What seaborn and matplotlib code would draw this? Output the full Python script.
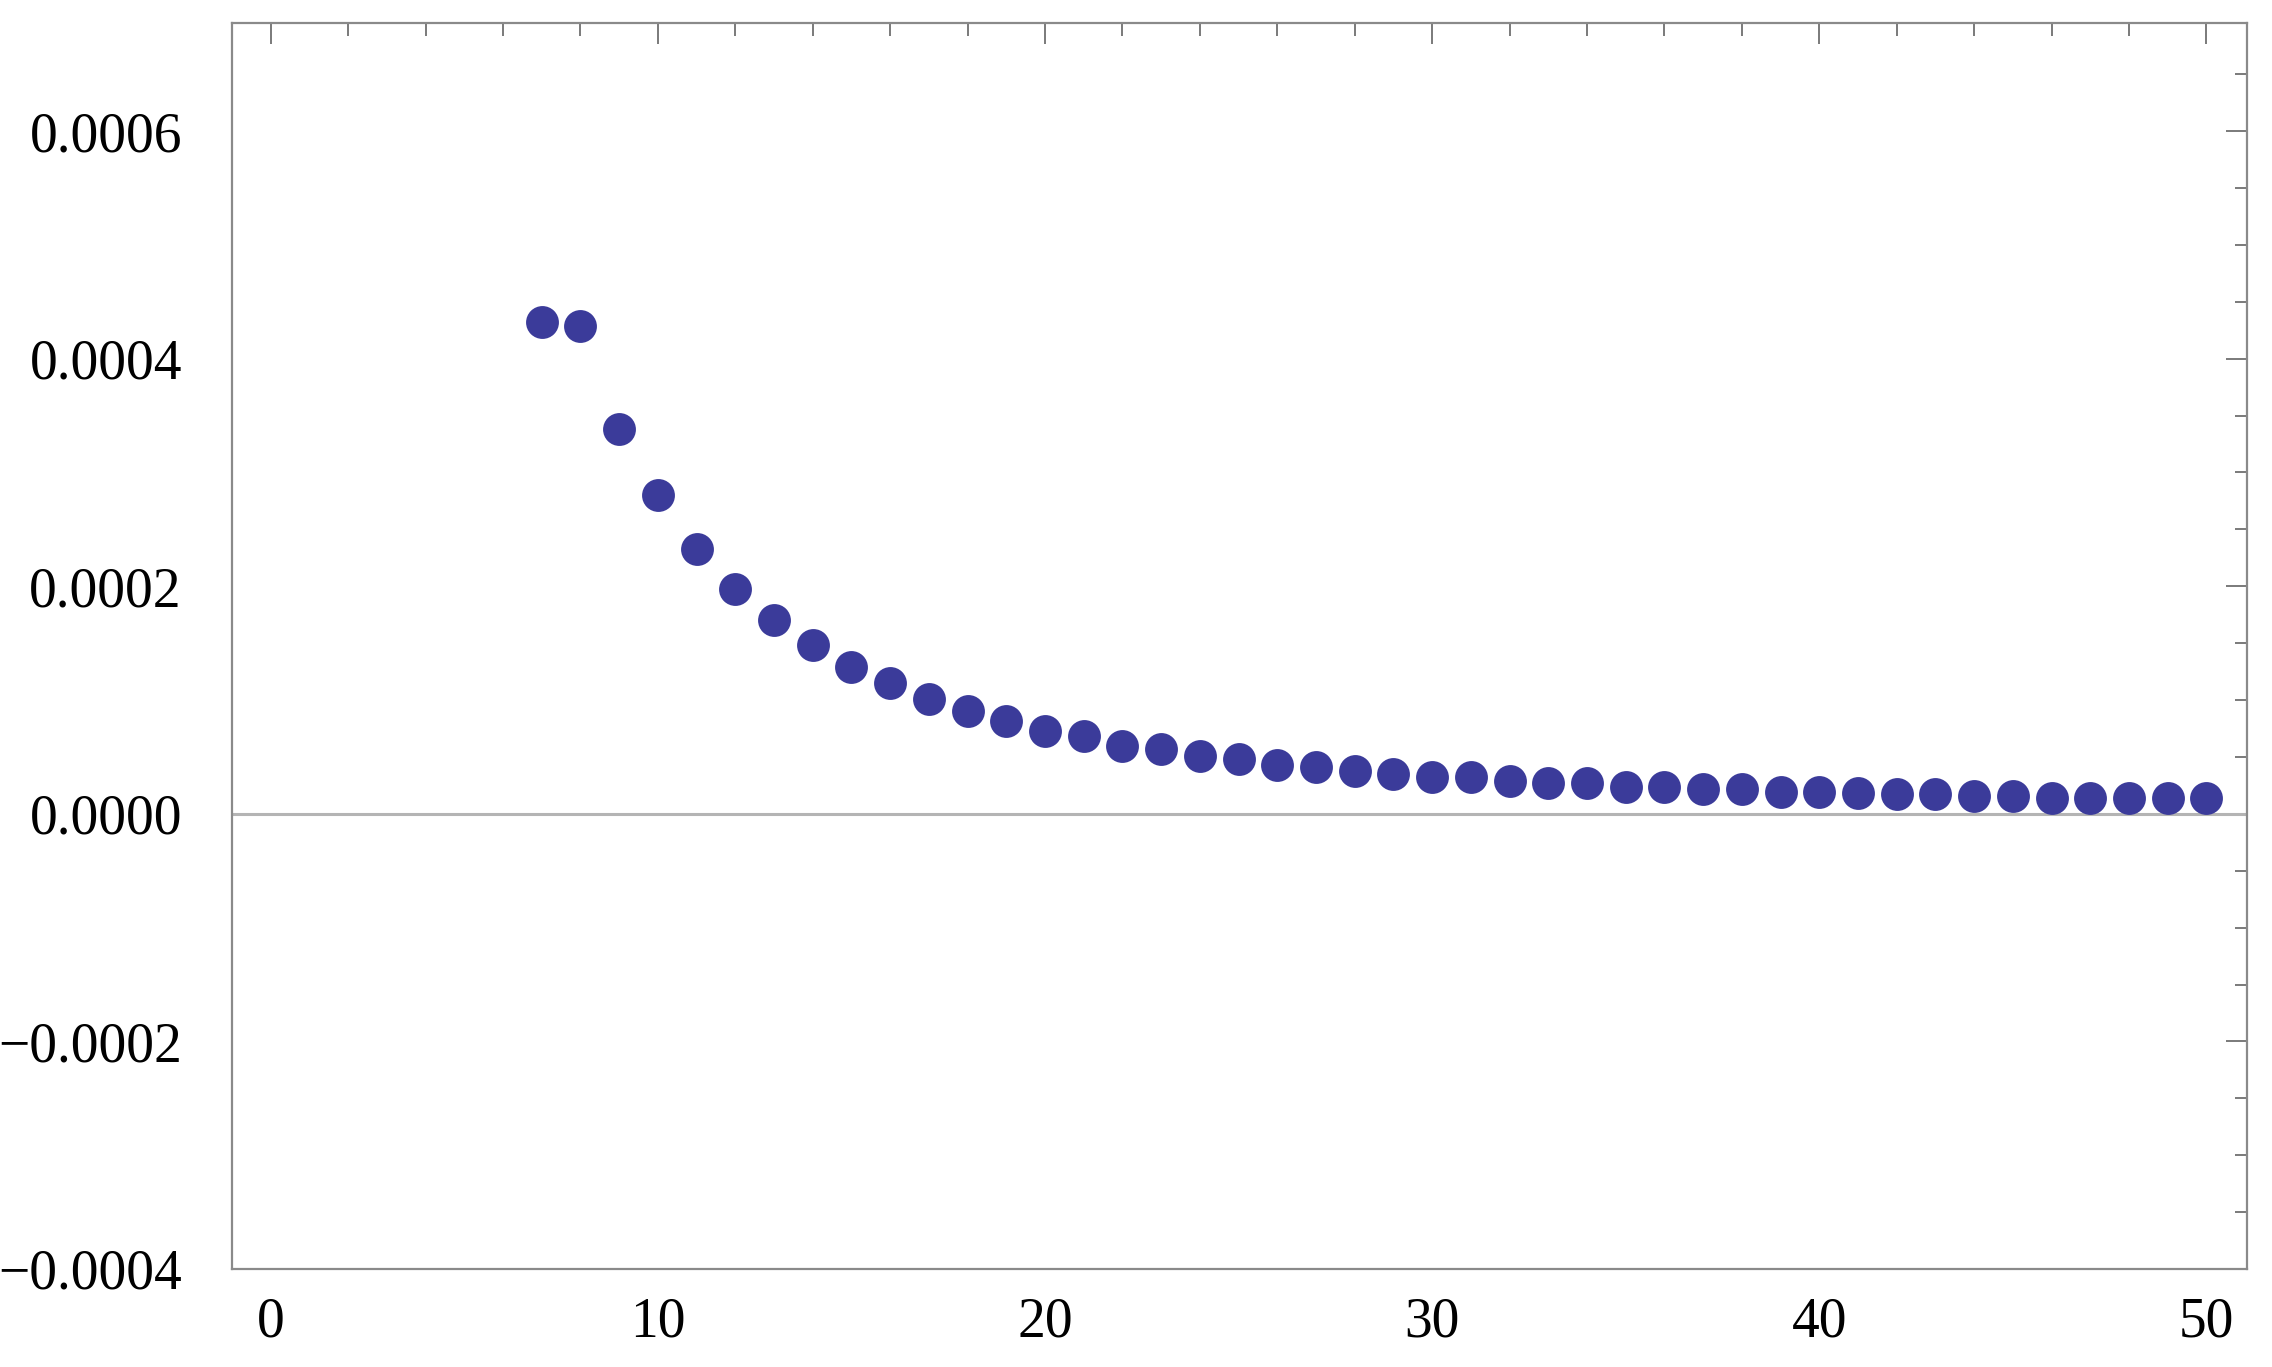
import numpy as np
import pandas as pd
import seaborn as sns
import matplotlib
matplotlib.use("Agg")
import matplotlib.pyplot as plt
from matplotlib.ticker import MultipleLocator, FuncFormatter

# values
n_values = list(range(7, 51))
residuals = [4.32e-4, 4.29e-4, 3.38e-4, 2.80e-4, 2.33e-4, 1.98e-4, 1.70e-4, 1.48e-4,
             1.29e-4, 1.15e-4, 1.01e-4, 0.90e-4, 0.82e-4, 0.73e-4, 0.68e-4, 0.60e-4,
             0.57e-4, 0.51e-4, 0.48e-4, 0.43e-4, 0.41e-4, 0.38e-4, 0.35e-4, 0.32e-4,
             0.32e-4, 0.29e-4, 0.27e-4, 0.27e-4, 0.24e-4, 0.24e-4, 0.22e-4, 0.22e-4,
             0.19e-4, 0.19e-4, 0.18e-4, 0.17e-4, 0.17e-4, 0.16e-4, 0.16e-4, 0.14e-4,
             0.14e-4, 0.14e-4, 0.14e-4, 0.14e-4]
x_ticks = [0, 10, 20, 30, 40, 50]
y_ticks = [-0.0004, -0.0002, 0.0, 0.0002, 0.0004, 0.0006]

df = pd.DataFrame({"n": n_values, "value": residuals})

sns.set_theme(style="white")
plt.rcParams["font.family"] = ["Liberation Serif", "DejaVu Serif"]

fig = plt.figure(figsize=(22.72, 13.67), dpi=100)
ax = fig.add_axes([0.1021, 0.0717, 0.8869, 0.9115])

ax.axhline(0, color="#b4b4b4", lw=2.2, zorder=1)
sns.scatterplot(data=df, x="n", y="value", ax=ax, color="#3b3b9a",
                s=560, linewidth=0, zorder=3, legend=False)

ax.set_xlim(-1, 51.05)
ax.set_ylim(-0.0004, 0.000695)
ax.set_xticks(x_ticks)
ax.set_yticks(y_ticks)
ax.xaxis.set_minor_locator(MultipleLocator(2))
ax.yaxis.set_minor_locator(MultipleLocator(0.00005))
ax.yaxis.set_major_formatter(FuncFormatter(lambda v, p: ("%.4f" % v).replace("-", "\u2212")))
ax.set_xlabel("")
ax.set_ylabel("")

for side in ax.spines.values():
    side.set_color("#8a8a8a")
    side.set_linewidth(1.6)

ax.tick_params(which="both", direction="in", top=True, right=True,
               color="#7a7a7a", width=1.4, labelsize=40, labelcolor="black")
ax.tick_params(which="major", length=15)
ax.tick_params(which="minor", length=9)
ax.tick_params(axis="y", which="major", pad=36)
ax.tick_params(axis="x", which="major", pad=20)

fig.savefig("out.png", dpi=100)
